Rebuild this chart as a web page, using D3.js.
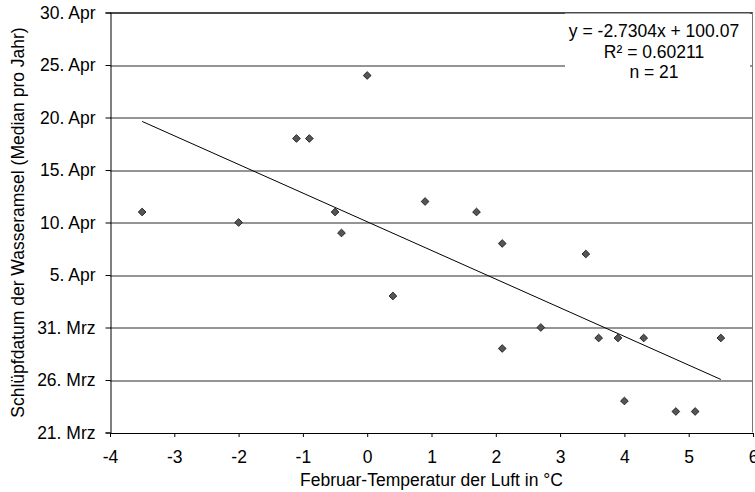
<!DOCTYPE html>
<html>
<head>
<meta charset="utf-8">
<script src="https://cdn.jsdelivr.net/npm/d3@7"></script>
<style>
  body { margin: 0; background: #fff; }
  svg text { font-family: "Liberation Sans", Arial, sans-serif; fill: #000; }
</style>
</head>
<body>
<div id="chart"></div>
<script>
// Februar-Temperatur (°C) und Schlüpfdatum als Tag im Jahr (80 = 21. Mrz)
const temps = [-3.5, -2, -1.1, -0.9, -0.5, -0.4, 0, 0.4, 0.9, 1.7, 2.1, 2.1, 2.7, 3.4, 3.6, 3.9, 4.0, 4.3, 4.8, 5.1, 5.5];
const days  = [101, 100, 108, 108, 101, 99, 114, 93, 102, 101, 98, 88, 90, 97, 89, 89, 83, 89, 82, 82, 89];

const yTickValues = [80, 85, 90, 95, 100, 105, 110, 115, 120];
const yTickLabels = ["21. Mrz", "26. Mrz", "31. Mrz", "5. Apr", "10. Apr", "15. Apr", "20. Apr", "25. Apr", "30. Apr"];
const xTickValues = [-4, -3, -2, -1, 0, 1, 2, 3, 4, 5, 6];

const slope = -2.7304, intercept = 100.07;
const trendRange = [-3.5, 5.5];
const statLines = ["y = -2.7304x + 100.07", "R\u00b2 = 0.60211", "n = 21"];

const W = 755, H = 492;
const margin = { top: 12.5, right: 2, bottom: 59.5, left: 110 };
const width = W - margin.left - margin.right;
const height = H - margin.top - margin.bottom;
const fontSize = "17.5px";

const svg = d3.select("#chart").append("svg")
    .attr("width", W)
    .attr("height", H);

const g = svg.append("g")
    .attr("transform", `translate(${margin.left},${margin.top})`);

const x = d3.scaleLinear().domain([-4, 6]).range([0, width]);
const y = d3.scaleLinear().domain([80, 120]).range([height, 0]);

// Gitterlinien
g.append("g")
    .selectAll("line")
    .data(yTickValues.slice(1))
    .enter().append("line")
    .attr("x1", 0)
    .attr("x2", width)
    .attr("y1", d => Math.round(y(d)) + 0.5)
    .attr("y2", d => Math.round(y(d)) + 0.5)
    .attr("stroke", "#2a2a2a")
    .attr("stroke-width", 1);

// Rahmen oben und rechts
g.append("line")
    .attr("x1", 0).attr("x2", width)
    .attr("y1", 0.5).attr("y2", 0.5)
    .attr("stroke", "#000");
g.append("line")
    .attr("x1", width - 0.5).attr("x2", width - 0.5)
    .attr("y1", 0).attr("y2", height)
    .attr("stroke", "#777");

// Achsen
const yAxis = g.append("g")
    .attr("transform", "translate(0.5,0)")
    .call(d3.axisLeft(y)
        .tickValues(yTickValues)
        .tickFormat((d, i) => yTickLabels[i])
        .tickSize(5)
        .tickPadding(10));

const xAxis = g.append("g")
    .attr("transform", `translate(0,${height + 0.5})`)
    .call(d3.axisBottom(x)
        .tickValues(xTickValues)
        .tickFormat(d => d < 0 ? "-" + Math.abs(d) : String(d))
        .tickSize(4)
        .tickPadding(14));

[yAxis, xAxis].forEach(a => {
    a.attr("font-size", null).attr("font-family", null);
    a.select(".domain").attr("stroke", "#000");
    a.selectAll(".tick line").attr("stroke", "#000");
    a.selectAll(".tick text").attr("fill", "#000").style("font-size", fontSize);
});

// Trendlinie
g.append("line")
    .attr("x1", x(trendRange[0]))
    .attr("y1", y(slope * trendRange[0] + intercept))
    .attr("x2", x(trendRange[1]))
    .attr("y2", y(slope * trendRange[1] + intercept))
    .attr("stroke", "#000")
    .attr("stroke-width", 1);

// Punkte (Rauten)
const diamond = d3.symbol().type(d3.symbolSquare).size(30);
g.selectAll(".pt")
    .data(temps.map((t, i) => ({ t, d: days[i] })))
    .enter().append("path")
    .attr("class", "pt")
    .attr("d", diamond)
    .attr("transform", d => `translate(${x(d.t)},${y(d.d)}) rotate(45)`)
    .attr("fill", "#555")
    .attr("stroke", "#111")
    .attr("stroke-width", 0.8);

// Gleichung mit weißem Hintergrund
const boxX = 565 - margin.left, boxW = 185;
g.append("rect")
    .attr("x", boxX)
    .attr("y", 1)
    .attr("width", boxW)
    .attr("height", 78)
    .attr("fill", "#fff");
g.append("g")
    .selectAll("text")
    .data(statLines)
    .enter().append("text")
    .attr("x", 654 - margin.left)
    .attr("y", (d, i) => 24.5 + i * 20.5)
    .attr("text-anchor", "middle")
    .style("font-size", fontSize)
    .text(d => d);

// Achsentitel
svg.append("text")
    .attr("x", margin.left + width / 2)
    .attr("y", 486)
    .attr("text-anchor", "middle")
    .style("font-size", fontSize)
    .text("Februar-Temperatur der Luft in \u00b0C");

svg.append("text")
    .attr("transform", `translate(24,${margin.top + height / 2}) rotate(-90)`)
    .attr("text-anchor", "middle")
    .style("font-size", fontSize)
    .text("Schlüpfdatum der Wasseramsel (Median pro Jahr)");
</script>
</body>
</html>
